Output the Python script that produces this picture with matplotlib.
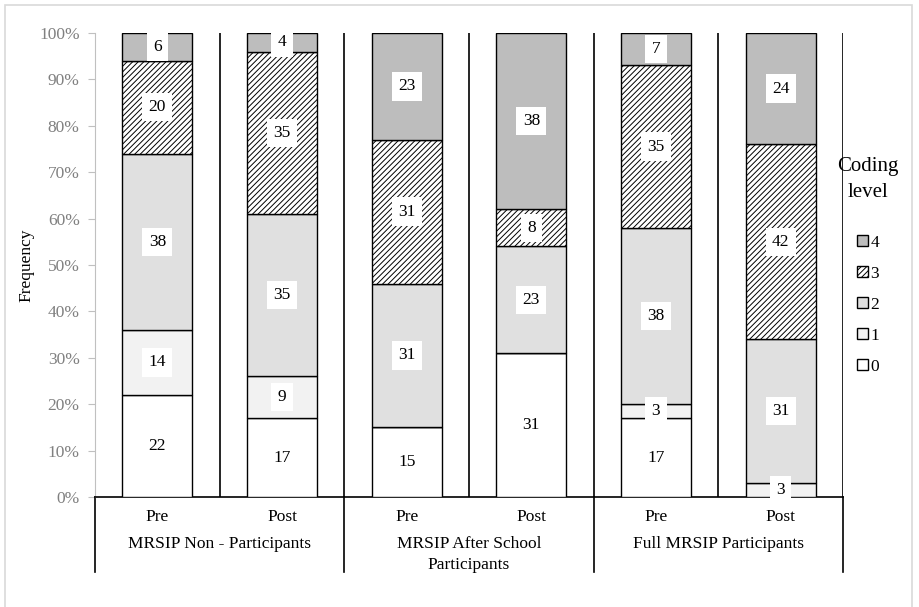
import matplotlib
matplotlib.use("Agg")
import matplotlib.pyplot as plt
from matplotlib.patches import Patch, Rectangle
from matplotlib.lines import Line2D
import numpy as np

plt.rcParams['font.family'] = ['Liberation Serif', 'DejaVu Serif']
plt.rcParams['hatch.color'] = '#404040'
plt.rcParams['hatch.linewidth'] = 0.7

# data (percent of each bar)
categories = ["Pre", "Post", "Pre", "Post", "Pre", "Post"]
groups = ["MRSIP Non - Participants", "MRSIP After School\nParticipants", "Full MRSIP Participants"]
levels = ["0", "1", "2", "3", "4"]
level0 = [22, 17, 15, 31, 17, 0]
level1 = [14, 9, 0, 0, 3, 3]
level2 = [38, 35, 31, 23, 38, 31]
level3 = [20, 35, 31, 8, 35, 42]
level4 = [6, 4, 23, 38, 7, 24]

series = [level0, level1, level2, level3, level4]
face = ['white', '#f2f2f2', '#e0e0e0', 'white', '#bdbdbd']
hatches = [None, None, None, '//////', None]

fig = plt.figure(figsize=(9.2, 6.07), dpi=100)
ax = fig.add_axes([95/920, 110/607, 748/920, 464/607])

x = np.arange(len(categories))
bottom = np.zeros(len(categories))
for vals, fc, h in zip(series, face, hatches):
    vals = np.array(vals, dtype=float)
    ax.bar(x, vals, width=0.56, bottom=bottom, color=fc, edgecolor='black',
           linewidth=1.0, hatch=h, zorder=3)
    for xi, b, v in zip(x, bottom, vals):
        if v > 0:
            ax.text(xi, b + v / 2, str(int(v)), ha='center', va='center', fontsize=12.5,
                    zorder=5, bbox=dict(facecolor='white', edgecolor='none', pad=4.5))
    bottom += vals

ax.set_xlim(-0.5, 5.5)
ax.set_ylim(0, 100)
ax.set_yticks(np.arange(0, 101, 10))
ax.set_yticklabels([f"{v}%" for v in range(0, 101, 10)], color='#808080', fontsize=12.5)
ax.tick_params(axis='y', color='#c0c0c0', length=5, pad=6)
ax.set_xticks([])
ax.set_ylabel("Frequency", fontsize=12.5, labelpad=3)

for s in ['top', 'right']:
    ax.spines[s].set_visible(False)
ax.spines['left'].set_color('#c0c0c0')
ax.spines['bottom'].set_color('black')
ax.spines['bottom'].set_linewidth(1.2)

# separators between categories
for b in np.arange(0.5, 6, 1.0):
    ax.axvline(b, color='black', linewidth=1.2, zorder=2)

# category table under the axis
tr = ax.get_xaxis_transform()
for b in [-0.5, 1.5, 3.5, 5.5]:
    ax.add_line(Line2D([b, b], [0, -0.162], transform=tr, color='black',
                       linewidth=1.2, clip_on=False))
for xi, c in zip(x, categories):
    ax.text(xi, -0.043, c, transform=tr, ha='center', va='center', fontsize=12.5)
for gi, g in enumerate(groups):
    ax.text(2 * gi + 0.5, -0.083, g, transform=tr, ha='center', va='top',
            fontsize=12.5, linespacing=1.45)

# legend
handles = [Patch(facecolor=fc, edgecolor='black', hatch=h, label=l)
           for fc, h, l in zip(face, hatches, levels)][::-1]
leg = fig.legend(handles=handles, title="Coding\nlevel", loc='upper center',
                 bbox_to_anchor=(868/920, 1 - 141/607), frameon=False, fontsize=12.5,
                 title_fontsize=15, handlelength=0.6, handleheight=0.6,
                 handletextpad=0.15, labelspacing=0.86)
leg.get_title().set_multialignment('center')
leg.get_title().set_linespacing(1.5)
leg._legend_box.sep = 24

# light border round the figure
fig.add_artist(Rectangle((5/920, -0.01), 907/920, 1 - 5/607 + 0.01, transform=fig.transFigure,
                         fill=False, edgecolor='#d9d9d9', linewidth=1.2))

fig.savefig("out.png", dpi=100)
